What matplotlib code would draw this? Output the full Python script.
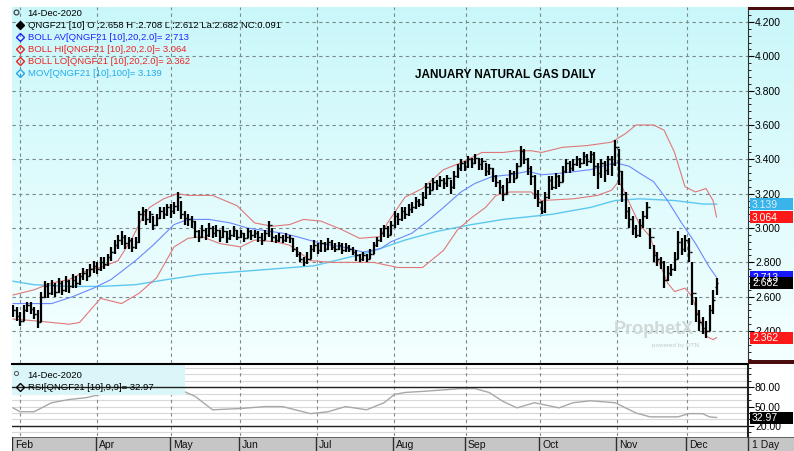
import numpy as np
import matplotlib
matplotlib.use('Agg')
import matplotlib.pyplot as plt
from matplotlib.patches import Rectangle
from matplotlib.lines import Line2D

plt.rcParams['font.family'] = ['Liberation Sans', 'DejaVu Sans']

# ---- data ----
closes = [2.52, 2.49, 2.46, 2.52, 2.55, 2.53, 2.50, 2.45, 2.60, 2.66,
          2.62, 2.67, 2.63, 2.68, 2.64, 2.69, 2.66, 2.70, 2.68, 2.72,
          2.74, 2.72, 2.76, 2.78, 2.76, 2.80, 2.79, 2.83, 2.86, 2.90,
          2.93, 2.95, 2.91, 2.93, 2.89, 2.92, 3.08, 3.10, 3.05, 3.08,
          3.02, 3.06, 3.10, 3.08, 3.12, 3.10, 3.13, 3.18, 3.08, 3.06,
          3.05, 3.04, 2.98, 2.95, 2.99, 2.96, 3.00, 2.97, 2.99, 2.95,
          2.98, 2.94, 2.96, 2.99, 2.95, 2.97, 2.94, 2.98, 2.96, 2.97,
          2.95, 2.93, 2.97, 3.02, 2.95, 2.93, 2.95, 2.93, 2.95, 2.94,
          2.88, 2.85, 2.82, 2.80, 2.82, 2.88, 2.90, 2.87, 2.91, 2.88,
          2.92, 2.89, 2.88, 2.90, 2.87, 2.89, 2.88, 2.86, 2.84, 2.82,
          2.84, 2.82, 2.85, 2.90, 2.93, 2.97, 3.00, 2.96, 3.02, 3.07,
          3.05, 3.10, 3.08, 3.11, 3.12, 3.16, 3.14, 3.18, 3.24, 3.22,
          3.27, 3.25, 3.28, 3.26, 3.29, 3.24, 3.30, 3.35, 3.38, 3.36,
          3.40, 3.38, 3.41, 3.37, 3.39, 3.33, 3.35, 3.30, 3.27, 3.24,
          3.20, 3.27, 3.32, 3.29, 3.36, 3.45, 3.40, 3.35, 3.30, 3.20,
          3.15, 3.10, 3.18, 3.28, 3.24, 3.30, 3.27, 3.33, 3.38, 3.35,
          3.37, 3.40, 3.38, 3.42, 3.39, 3.43, 3.36, 3.32, 3.38, 3.34,
          3.40, 3.37, 3.47, 3.33, 3.20, 3.10, 3.05, 3.00, 2.96, 3.02,
          3.07, 3.12, 2.95, 2.84, 2.82, 2.80, 2.70, 2.74, 2.76, 2.82,
          2.92, 2.88, 2.93, 2.86, 2.62, 2.50, 2.45, 2.42, 2.40, 2.52,
          2.58, 2.682]
highs = [2.55, 2.54, 2.51, 2.55, 2.57, 2.57, 2.54, 2.52, 2.63, 2.69,
         2.68, 2.70, 2.68, 2.71, 2.69, 2.72, 2.70, 2.73, 2.72, 2.74,
         2.77, 2.76, 2.79, 2.81, 2.80, 2.83, 2.83, 2.85, 2.89, 2.93,
         2.96, 2.98, 2.96, 2.95, 2.94, 2.95, 3.10, 3.12, 3.11, 3.10,
         3.07, 3.08, 3.12, 3.12, 3.14, 3.14, 3.15, 3.21, 3.16, 3.10,
         3.08, 3.07, 3.04, 2.99, 3.02, 3.00, 3.03, 3.01, 3.02, 2.99,
         3.01, 2.98, 2.99, 3.01, 2.99, 2.99, 2.97, 3.00, 2.99, 2.99,
         2.98, 2.97, 2.99, 3.04, 3.00, 2.96, 2.97, 2.96, 2.97, 2.96,
         2.94, 2.89, 2.86, 2.83, 2.86, 2.90, 2.93, 2.91, 2.93, 2.92,
         2.94, 2.93, 2.91, 2.92, 2.91, 2.91, 2.90, 2.89, 2.87, 2.85,
         2.86, 2.85, 2.88, 2.92, 2.95, 3.00, 3.02, 3.01, 3.04, 3.10,
         3.09, 3.12, 3.12, 3.14, 3.15, 3.18, 3.17, 3.21, 3.26, 3.26,
         3.29, 3.28, 3.30, 3.29, 3.31, 3.28, 3.33, 3.37, 3.40, 3.39,
         3.42, 3.41, 3.43, 3.41, 3.41, 3.38, 3.37, 3.35, 3.31, 3.28,
         3.25, 3.29, 3.34, 3.33, 3.38, 3.48, 3.46, 3.41, 3.36, 3.31,
         3.22, 3.16, 3.21, 3.30, 3.30, 3.32, 3.31, 3.36, 3.40, 3.39,
         3.40, 3.42, 3.41, 3.44, 3.43, 3.45, 3.44, 3.38, 3.40, 3.39,
         3.42, 3.42, 3.51, 3.46, 3.33, 3.21, 3.12, 3.07, 3.02, 3.05,
         3.10, 3.15, 3.00, 2.90, 2.86, 2.83, 2.81, 2.78, 2.79, 2.86,
         2.98, 2.94, 2.96, 2.94, 2.80, 2.60, 2.52, 2.48, 2.46, 2.55,
         2.64, 2.708]
lows = [2.48, 2.46, 2.43, 2.46, 2.51, 2.50, 2.47, 2.42, 2.45, 2.59,
        2.59, 2.61, 2.60, 2.62, 2.61, 2.63, 2.62, 2.65, 2.65, 2.67,
        2.70, 2.69, 2.72, 2.74, 2.73, 2.75, 2.76, 2.78, 2.81, 2.85,
        2.88, 2.90, 2.88, 2.88, 2.86, 2.88, 2.91, 3.04, 3.02, 3.03,
        2.99, 3.01, 3.05, 3.05, 3.07, 3.06, 3.08, 3.10, 3.05, 3.02,
        3.01, 3.00, 2.94, 2.92, 2.94, 2.93, 2.95, 2.94, 2.95, 2.92,
        2.94, 2.91, 2.93, 2.95, 2.93, 2.94, 2.92, 2.94, 2.93, 2.94,
        2.92, 2.90, 2.93, 2.95, 2.92, 2.91, 2.92, 2.91, 2.92, 2.91,
        2.86, 2.83, 2.80, 2.78, 2.79, 2.82, 2.86, 2.85, 2.86, 2.86,
        2.87, 2.87, 2.86, 2.87, 2.85, 2.86, 2.86, 2.84, 2.81, 2.80,
        2.81, 2.80, 2.82, 2.85, 2.89, 2.92, 2.95, 2.94, 2.96, 3.00,
        3.02, 3.04, 3.05, 3.07, 3.09, 3.11, 3.12, 3.13, 3.17, 3.19,
        3.22, 3.22, 3.24, 3.23, 3.24, 3.20, 3.23, 3.29, 3.33, 3.33,
        3.35, 3.35, 3.37, 3.34, 3.34, 3.30, 3.31, 3.27, 3.24, 3.20,
        3.16, 3.20, 3.26, 3.26, 3.29, 3.36, 3.37, 3.31, 3.25, 3.17,
        3.12, 3.08, 3.09, 3.17, 3.22, 3.23, 3.24, 3.27, 3.32, 3.32,
        3.33, 3.36, 3.35, 3.37, 3.36, 3.38, 3.30, 3.23, 3.29, 3.27,
        3.31, 3.30, 3.36, 3.25, 3.15, 3.05, 3.00, 2.96, 2.94, 2.95,
        3.00, 3.05, 2.88, 2.80, 2.78, 2.76, 2.65, 2.69, 2.72, 2.75,
        2.82, 2.84, 2.86, 2.80, 2.55, 2.45, 2.40, 2.38, 2.36, 2.40,
        2.50, 2.612]
last_open = 2.658

# Bollinger / moving average lines, sampled at bar index
up_i = [0, 6, 11, 16, 22, 25, 30, 34, 37, 39, 43, 47, 50, 57, 64, 69, 74, 79, 83, 88,
        94, 99, 105, 107, 112, 117, 123, 128, 134, 140, 144, 148, 151, 157, 164, 171,
        175, 178, 183, 186, 189, 192, 195, 198, 200, 201]
up_v = [2.61, 2.64, 2.68, 2.70, 2.76, 2.77, 2.81, 2.94, 3.06, 3.12, 3.17, 3.20, 3.19, 3.19,
        3.13, 3.03, 3.01, 3.02, 3.05, 3.04, 2.99, 2.94, 2.95, 3.03, 3.18, 3.23, 3.34, 3.38,
        3.44, 3.44, 3.45, 3.45, 3.44, 3.47, 3.48, 3.50, 3.55, 3.60, 3.60, 3.57, 3.44, 3.24,
        3.21, 3.23, 3.16, 3.064]
mid_i = [0, 6, 11, 17, 23, 28, 35, 40, 46, 50, 56, 62, 67, 77, 81, 88, 94, 100, 105, 108,
         114, 119, 123, 128, 132, 137, 142, 147, 151, 157, 165, 172, 176, 179, 183, 187,
         191, 195, 199, 201]
mid_v = [2.56, 2.56, 2.56, 2.60, 2.65, 2.70, 2.81, 2.90, 3.02, 3.05, 3.05, 3.03, 3.00, 2.97,
         2.95, 2.91, 2.89, 2.86, 2.88, 2.92, 2.97, 3.05, 3.12, 3.21, 3.26, 3.30, 3.31, 3.33,
         3.31, 3.32, 3.34, 3.38, 3.36, 3.32, 3.27, 3.16, 3.03, 2.91, 2.77, 2.713]
lo_i = [0, 6, 16, 19, 22, 25, 31, 36, 41, 46, 50, 54, 59, 65, 69, 75, 79, 85, 91, 97, 103,
        110, 117, 123, 127, 131, 135, 138, 142, 148, 151, 160, 167, 171, 173, 174, 176, 179,
        182, 184, 187, 189, 192, 194, 196, 198, 200, 201]
lo_v = [2.47, 2.46, 2.44, 2.45, 2.52, 2.59, 2.56, 2.62, 2.71, 2.89, 2.94, 2.95, 2.91, 2.89,
        2.93, 2.92, 2.90, 2.81, 2.80, 2.80, 2.80, 2.77, 2.77, 2.87, 2.99, 3.06, 3.12, 3.19,
        3.21, 3.21, 3.16, 3.17, 3.19, 3.22, 3.27, 3.24, 3.15, 3.02, 2.95, 2.83, 2.68, 2.63,
        2.65, 2.60, 2.48, 2.37, 2.35, 2.362]
ma_i = [0, 6, 16, 25, 35, 44, 54, 67, 86, 102, 112, 121, 131, 140, 154, 165, 172, 179, 189,
        197, 201]
ma_v = [2.69, 2.67, 2.66, 2.66, 2.67, 2.70, 2.73, 2.75, 2.78, 2.86, 2.93, 2.98, 3.02, 3.05,
        3.08, 3.12, 3.16, 3.17, 3.16, 3.14, 3.139]

rsi_i = [0, 2, 6, 11, 16, 21, 25, 33, 40, 47, 52, 57, 65, 72, 77, 85, 90, 95, 101, 106, 109,
         112, 118, 128, 132, 136, 140, 144, 149, 156, 160, 165, 172, 178, 182, 190, 193, 197,
         199, 201]
rsi_v = [48, 42, 42, 56, 61, 64, 69, 74, 76, 78, 66, 45, 47, 50, 50, 39, 42, 50, 45, 56, 69,
         72, 74, 78, 78, 72, 58, 48, 56, 48, 56, 59, 56, 40, 34, 34, 39, 39, 34, 32.97]

month_labels = ['Feb', 'Apr', 'May', 'Jun', 'Jul', 'Aug', 'Sep', 'Oct', 'Nov', 'Dec']
month_pos = [2.0, 24.0, 45.1, 64.9, 86.9, 108.9, 129.4, 150.6, 172.6, 192.6]

W, H = 794, 451
X0, X1 = 12, 748          # plot area in pixels
MT, MB = 7, 363           # main panel
RT, RB = 364, 436         # rsi panel
YTOP, YBOT = 4.287, 2.214
XMAX = (X1 - X0) / 3.5


def box(x0, y0, x1, y1):
    return [x0 / W, 1 - y1 / H, (x1 - x0) / W, (y1 - y0) / H]


def frect(x0, y0, x1, y1, color, z=2):
    fig.patches.append(Rectangle((x0 / W, 1 - y1 / H), (x1 - x0) / W, (y1 - y0) / H,
                                 transform=fig.transFigure, facecolor=color,
                                 edgecolor='none', zorder=z))


def ftext(x, y, s, **kw):
    fig.text(x / W, 1 - y / H, s, **kw)


def fmark(x, y, **kw):
    fig.add_artist(Line2D([x / W], [1 - y / H], transform=fig.transFigure, **kw))


fig = plt.figure(figsize=(W / 100, H / 100), dpi=100)

# gradient background
bg = fig.add_axes(box(X0, MT, W, MB))
g = np.linspace(0, 1, 256)[:, None, None]
top = np.array([0.79, 0.97, 0.98])
bot = np.array([0.96, 1.0, 1.0])
bg.imshow(top * (1 - g) + bot * g, aspect='auto', extent=[0, 1, 0, 1])
bg.axis('off')

# main price panel
ax = fig.add_axes(box(X0, MT, X1, MB))
ax.set_zorder(1)
ax.patch.set_alpha(0)
ax.set_xlim(-0.3, XMAX - 0.3)
ax.set_ylim(YBOT, YTOP)
ax.set_xticks(month_pos)
ax.yaxis.tick_right()
ax.set_yticks(np.arange(2.4, 4.21, 0.2))
ax.set_yticks(np.arange(2.24, 4.28, 0.04), minor=True)
ax.set_yticklabels(['%.3f' % v for v in np.arange(2.4, 4.21, 0.2)])
ax.tick_params(axis='x', length=0, labelbottom=False)
ax.tick_params(axis='y', which='major', length=4, width=0.8, labelsize=7.5, pad=1)
ax.tick_params(axis='y', which='minor', length=2, width=0.6)
for s in ['top', 'left', 'bottom']:
    ax.spines[s].set_visible(False)
ax.spines['right'].set_color('#303030')
ax.grid(True, color='#7a8a8a', linestyle=(0, (3, 3)), linewidth=0.8)

x = np.arange(len(closes))
opens = [closes[0]] + closes[:-1]
opens[-1] = last_open
ax.plot(ma_i, ma_v, color='#5cc8f0', lw=1.0, zorder=2)
ax.plot(up_i, up_v, color='#e07878', lw=0.8, zorder=2)
ax.plot(lo_i, lo_v, color='#e07878', lw=0.8, zorder=2)
ax.plot(mid_i, mid_v, color='#6a88ff', lw=0.8, zorder=2)
ax.vlines(x, lows, highs, color='black', lw=1.6, zorder=3)
ax.hlines(opens, x - 0.5, x, color='black', lw=1.0, zorder=3)
ax.hlines(closes, x, x + 0.5, color='black', lw=1.0, zorder=3)

# watermark
ftext(614, 330, 'ProphetX', fontsize=13, weight='bold', color='#d0d8d8', va='center')
ftext(652, 345, 'powered by DTN', fontsize=4.5, color='#c4c8c8', va='center')

# legend / header text
fmark(16, 12, marker='o', ms=3.5, mfc='none', mec='#333333', mew=0.8)
ftext(27, 13, '14-Dec-2020', fontsize=6.8, va='center')
leg = [('QNGF21 [10] O :2.658 H :2.708 L :2.612 La:2.682 NC:0.091', 'black', True),
       ('BOLL AV[QNGF21 [10],20,2.0]= 2.713', '#2222ff', False),
       ('BOLL HI[QNGF21 [10],20,2.0]= 3.064', '#ee2222', False),
       ('BOLL LO[QNGF21 [10],20,2.0]= 2.362', '#ee2222', False),
       ('MOV[QNGF21 [10],100]= 3.139', '#22aaee', False)]
for k, (s, c, filled) in enumerate(leg):
    yy = 25 + 12 * k
    fmark(20, yy, marker='D', ms=4, mfc=c if filled else 'none', mec=c, mew=1.0)
    ftext(28, yy + 0.5, s, fontsize=6.8, color=c, va='center')
ftext(505, 75, 'JANUARY NATURAL GAS DAILY', fontsize=8.5, weight='bold', ha='center',
      va='center')


def ypix(v):
    return MT + (YTOP - v) / (YTOP - YBOT) * (MB - MT)


tags = [(3.139, '#38b4ea', '#d8eefa'), (3.064, '#ff1818', 'white'),
        (2.713, '#1818ff', 'white'), (2.682, 'black', 'white'), (2.362, '#ff1818', 'white')]
for v, bc, tc in tags:
    yc = ypix(v)
    frect(750, yc - 6, 793, yc + 6, bc, z=3)
    ftext(752, yc + 0.5, '%.3f' % v, fontsize=7.5, color=tc, va='center', zorder=4)

frect(X1, MT, W, MT + 3, '#4a0c0c', z=3)
frect(X1, MB - 3, W, MB + 1, '#4a0c0c', z=3)

# RSI panel
rx = fig.add_axes(box(X0, RT, X1, RB))
rx.set_xlim(-0.3, XMAX - 0.3)
rx.set_ylim(4.2, 116.3)
for lv in range(0, 120, 10):
    rx.axhline(lv, color='#d8d8d8', lw=0.8, zorder=0.5)
rx.axhline(80, color='#202020', lw=1.0, zorder=3)
rx.axhline(20, color='#202020', lw=1.0, zorder=3)
for p in month_pos:
    rx.axvline(p, color='#8a8a8a', linestyle=(0, (3, 3)), lw=0.8, zorder=0.6)
rx.plot(rsi_i, rsi_v, color='#a8a8a8', lw=1.0, zorder=1)
rx.add_patch(Rectangle((0, (RB - 395) / (RB - RT)), (185 - X0) / (X1 - X0),
                       (395 - RT) / (RB - RT), transform=rx.transAxes,
                       facecolor='#daf6f8', edgecolor='none', zorder=2))
rx.yaxis.tick_right()
rx.set_yticks([20, 50, 80])
rx.set_yticklabels(['20.00', '50.00', '80.00'])
rx.set_yticks(range(10, 116, 10), minor=True)
rx.set_xticks([])
rx.tick_params(axis='y', which='major', length=4, width=0.8, labelsize=7.5, pad=1)
rx.tick_params(axis='y', which='minor', length=2, width=0.6)
for s in ['left', 'bottom']:
    rx.spines[s].set_visible(False)
rx.spines['top'].set_linewidth(1.5)
rx.spines['right'].set_linewidth(1.5)
rx.spines['right'].set_color('#202020')

fmark(16, 373, marker='o', ms=3, mfc='none', mec='#555555', mew=0.7)
ftext(27, 375, '14-Dec-2020', fontsize=6.8, va='center', zorder=4)
fmark(20, 387, marker='D', ms=4, mfc='none', mec='black', mew=1.0, zorder=4)
ftext(28, 387, 'RSI[QNGF21 [10],9,9]= 32.97', fontsize=6.8, va='center', zorder=4)
yr = RT + (116.3 - 32.97) / (116.3 - 4.2) * (RB - RT)
frect(750, yr - 6, 793, yr + 6, 'black', z=3)
ftext(752, yr + 0.5, '32.97', fontsize=7.5, color='white', va='center', zorder=4)

# date band
db = fig.add_axes(box(X0, 437, W, H))
db.set_xlim(X0, W)
db.set_ylim(0, 1)
db.set_facecolor('#c6c6c6')
db.set_xticks([])
db.set_yticks([])
for s in db.spines.values():
    s.set_visible(False)
db.axhline(1, color='#505050', lw=1.2)
for k, (lab, p) in enumerate(zip(month_labels, month_pos)):
    xp = X0 if k == 0 else X0 + 3.5 * p
    db.axvline(xp, color='#303030', lw=1.0)
    db.text(xp + 3, 0.42, lab, fontsize=7.5, va='center', color='#111111')
db.axvline(X1, color='#303030', lw=1.0)
db.text(X1 + 4, 0.42, '1 Day', fontsize=7.5, va='center', color='#111111')

fig.savefig('out.png', dpi=100)
